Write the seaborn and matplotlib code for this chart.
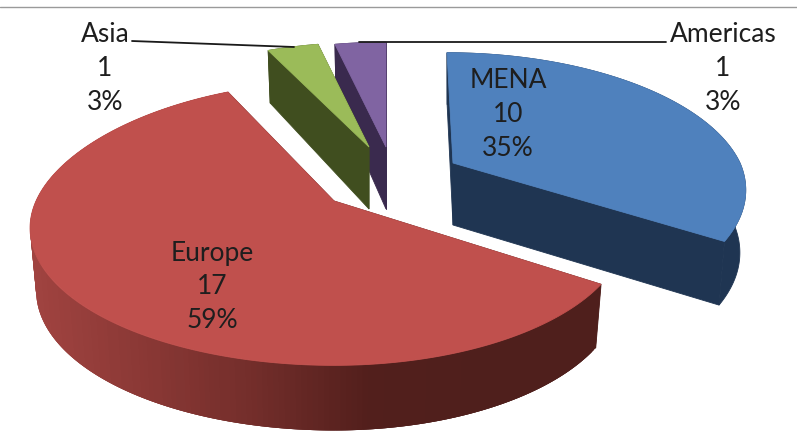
import numpy as np
import pandas as pd
import matplotlib
matplotlib.use("Agg")
import matplotlib.pyplot as plt
import seaborn as sns

categories = ["MENA", "Asia", "Americas", "Europe"]
order_clockwise = ["MENA", "Europe", "Asia", "Americas"]
counts = [10, 1, 1, 17]
percents = ["35%", "3%", "3%", "59%"]
df = pd.DataFrame({"cat": categories, "n": counts, "pct": percents}).set_index("cat")

top_colors = {"MENA": "#4F81BD", "Europe": "#C0504D", "Asia": "#9BBB59", "Americas": "#8064A2"}
wall_colors = {"MENA": "#1F3552", "Europe": "#4F1F1C", "Asia": "#404E1F", "Americas": "#3A2A4E"}
europe_rim = ["#A04340", "#8A3835", "#722D2A", "#521F1C", "#4F1F1C", "#4F1F1C"]

# explosion: where each slice's tip ends up, and per-slice radius / far-side stretch
tips = {"MENA": (453, 163), "Europe": (334, 201), "Asia": (369, 147), "Americas": (386, 147)}
radius_scale = {"MENA": 1.0, "Europe": 1.0, "Asia": 0.95, "Americas": 0.95}
far_stretch = {"MENA": 0.0, "Europe": 0.08, "Asia": 0.0, "Americas": 0.0}
far_tilt = {"MENA": -6, "Europe": 0, "Asia": 0, "Americas": 0}
end_trim = {"MENA": 2.0, "Europe": 0.0, "Asia": 0.0, "Americas": 0.0}

R_LEFT, R_RIGHT, A, K, DEPTH, SHRINK = 298, 287, 132, 0.197, 62, 0.98

sns.set_theme(style="white")
plt.rcParams["font.family"] = ["Lato", "DejaVu Sans"]

fig = plt.figure(figsize=(7.97, 4.32), dpi=100)
ax = fig.add_axes([0, 0, 1, 1])
ax.set_xlim(0, 797)
ax.set_ylim(432, 0)
ax.axis("off")

total = df["n"].sum()
angles = {}
a0 = 0.0
for c in order_clockwise:
    a1 = a0 + 360.0 * df.loc[c, "n"] / total
    angles[c] = (a0, a1)
    a0 = a1


def project(c, th, r=1.0):
    """th in degrees clockwise from far point; returns top and bottom screen points."""
    th = np.radians(th)
    u, v = r * np.sin(th), r * np.cos(th)
    w = 1 + K * v
    R = np.where(u < 0, R_LEFT, R_RIGHT)
    dx = R * u / w * radius_scale[c] + far_tilt[c] * np.clip(v, 0, 1)
    dy = -A * v / w * radius_scale[c] * (1 + far_stretch[c] * np.clip(v, 0, 1))
    d = DEPTH * np.where(v > 0, 1 / w, 1 + 0.05 * (-v))
    tx, ty = tips[c]
    return (tx + dx, ty + dy), (tx + dx * SHRINK, ty + dy + d)


def poly(xs, ys, color, z, lw=0.6):
    ax.fill(xs, ys, facecolor=color, edgecolor=color if lw else "none", linewidth=lw, zorder=z)


def draw_slice(c, z):
    a, b = angles[c]
    b = b - end_trim[c]
    th = np.linspace(a, b, 240)
    (tx, ty), (bx, by) = project(c, th)
    (ax0, ay0), (bx0, by0) = project(c, np.array([a, b]), r=0.0)
    # walls along both straight edges
    for i in (0, -1):
        poly([tx[i], ax0[0], bx0[0], bx[i]], [ty[i], ay0[0], by0[0], by[i]], wall_colors[c], z)
    # rim
    if c == "Europe":
        grad = sns.blend_palette(europe_rim, 100)
        for i in range(len(th) - 1):
            k = np.clip((tx[i] - 30) / 570, 0, 0.999)
            j = min(i + 3, len(th) - 1)
            poly([tx[i], tx[j], bx[j], bx[i]], [ty[i], ty[j], by[j], by[i]], grad[int(k * 100)], z + 0.1 + i * 1e-4, lw=0)
    else:
        poly(np.r_[tx, bx[::-1]], np.r_[ty, by[::-1]], wall_colors[c], z + 0.1)
    # top face
    poly(np.r_[ax0[0], tx], np.r_[ay0[0], ty], top_colors[c], z + 0.2)


for z, c in enumerate(["Americas", "Asia", "Europe", "MENA"]):
    draw_slice(c, z + 1)

# frame line and leaders
ax.plot([0, 797], [7, 7], color="#9A9A9A", lw=1.0, zorder=6)
ax.plot([132, 294], [41, 47], color="#1A1A1A", lw=1.3, zorder=6)
ax.plot([359, 666], [42, 42], color="#1A1A1A", lw=1.3, zorder=6)

label_pos = {"Asia": (105, 35), "Americas": (723, 35), "MENA": (508, 81), "Europe": (212, 253)}
for c, (x, y) in label_pos.items():
    lines = [c, str(df.loc[c, "n"]), df.loc[c, "pct"]]
    for j, s in enumerate(lines):
        ax.text(x, y + j * 34, s, ha="center", va="center", fontsize=19, color="#1E1E1E", zorder=7)

fig.savefig("out.png", dpi=100, facecolor="white")
